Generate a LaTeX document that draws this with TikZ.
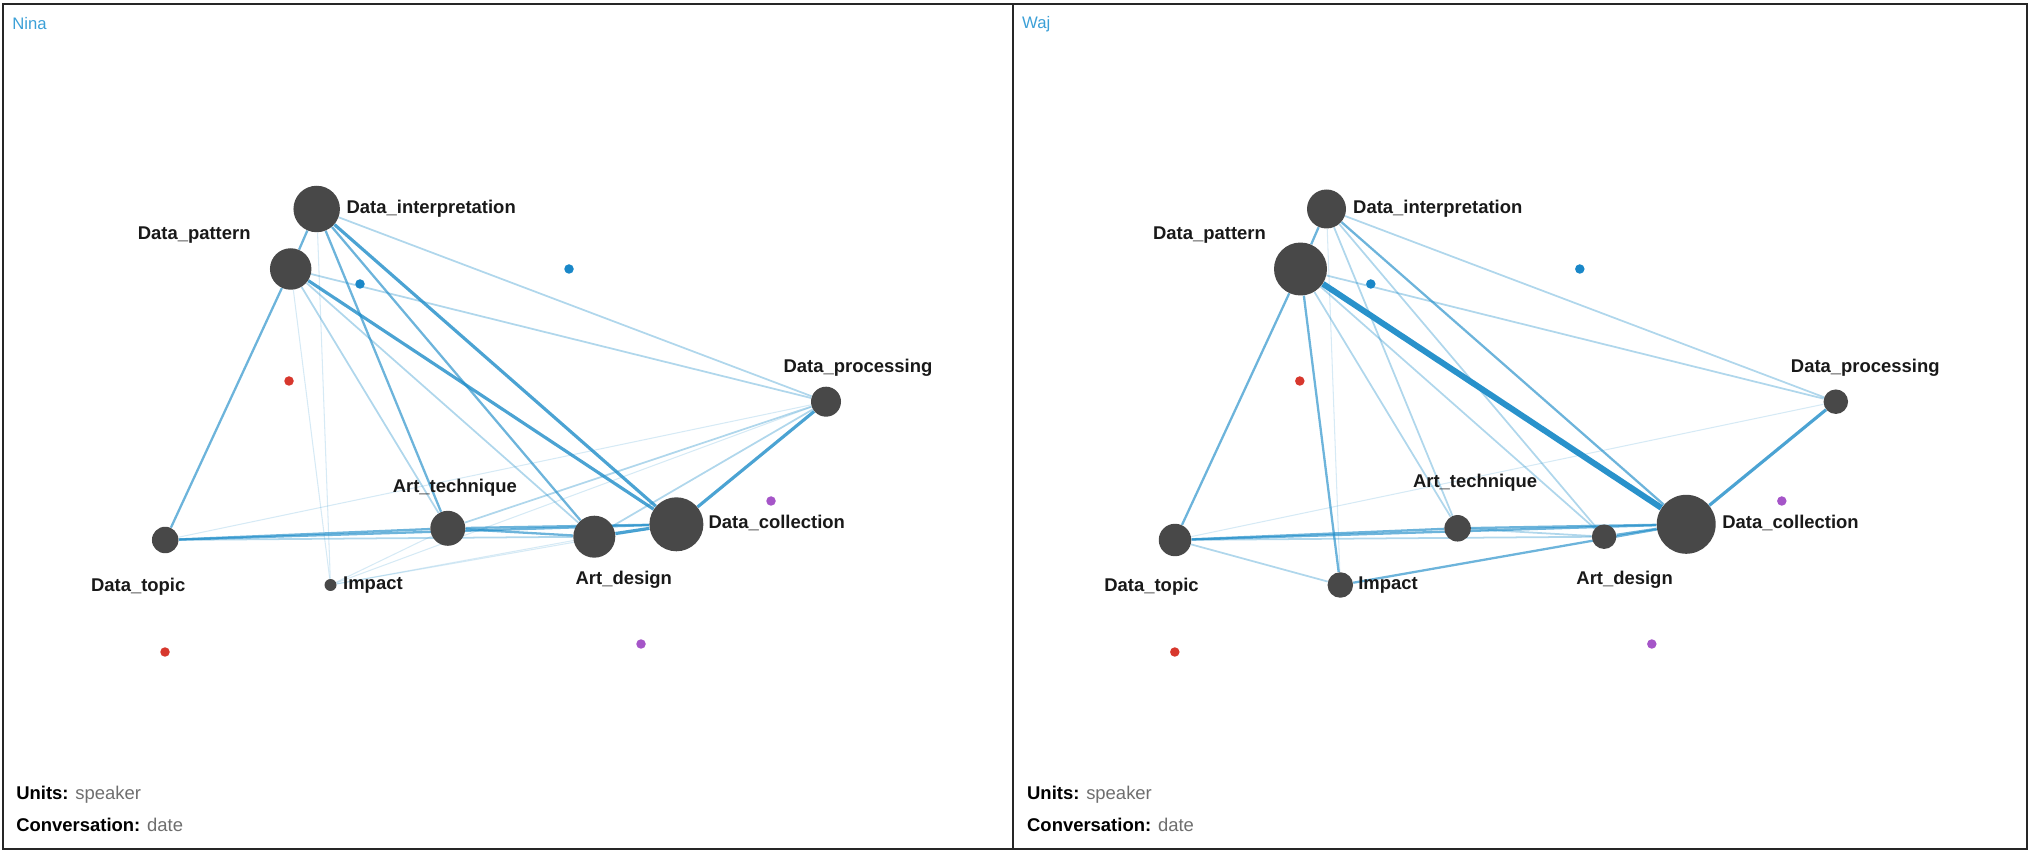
\documentclass[tikz,border=0pt]{standalone}
\usepackage{fontspec}
\setmainfont{Liberation Sans}
\usetikzlibrary{positioning}
\usetikzlibrary{backgrounds}

\definecolor{edgeblue}{RGB}{30,140,200}
\definecolor{nodegray}{RGB}{72,72,72}
\definecolor{dotblue}{RGB}{25,135,200}
\definecolor{dotred}{RGB}{215,55,45}
\definecolor{dotpurple}{RGB}{165,85,200}
\definecolor{namecol}{RGB}{60,160,215}
\definecolor{infogray}{RGB}{110,110,110}

\begin{document}
\begin{tikzpicture}[x=0.02cm, y=-0.02cm,
    code/.style={circle, fill=nodegray, inner sep=0pt},
    lbl/.style={font=\fontsize{10.5}{12}\selectfont\bfseries, text=black!90, inner sep=0pt, text height=0.265cm, text depth=0.078cm},
    unitdot/.style={circle, inner sep=0pt, minimum size=0.19cm},
    faintlink/.style={draw=edgeblue, line width=0.6pt, opacity=0.18},
    lightlink/.style={draw=edgeblue, line width=1pt, opacity=0.35},
    midlink/.style={draw=edgeblue, line width=1.3pt, opacity=0.65},
    boldlink/.style={draw=edgeblue, line width=1.8pt, opacity=0.8},
    heavylink/.style={draw=edgeblue, line width=3.4pt, opacity=0.95},
    frame/.style={draw=black!85, line width=1.6pt},
    info/.style={font=\fontsize{10.5}{12}\selectfont, inner sep=0pt},
    who/.style={font=\fontsize{9.5}{11}\selectfont, text=namecol, inner sep=0pt}]
    \useasboundingbox (0,0) rectangle (2032,854);

    % Nina
    \begin{scope}[name prefix=n-]
        \node[who, anchor=west] (name) at (12,24) {Nina};

        \node[code, minimum size=0.93cm] (DI) at (316.7,209) {};
        \node[code, minimum size=0.83cm] (DP) at (290.7,269) {};
        \node[code, minimum size=0.60cm] (DPr) at (826,401.7) {};
        \node[code, minimum size=1.08cm] (DC) at (676.4,524.3) {};
        \node[code, minimum size=0.84cm] (AD) at (594.3,536.7) {};
        \node[code, minimum size=0.70cm] (AT) at (447.8,528.3) {};
        \node[code, minimum size=0.53cm] (DT) at (165.2,540) {};
        \node[code, minimum size=0.24cm] (Im) at (330.5,585) {};

        \node[lbl, right=0.12cm of DI] (DIl) {Data\_interpretation};
        \node[lbl, above=0.08cm of DP, xshift=-1.93cm] (DPl) {Data\_pattern};
        \node[lbl, above=0.2cm of DPr, xshift=0.64cm] (DPrl) {Data\_processing};
        \node[lbl, right=0.09cm of DC] (DCl) {Data\_collection};
        \node[lbl, below=0.26cm of AD, xshift=0.59cm] (ADl) {Art\_design};
        \node[lbl, above=0.27cm of AT, xshift=0.14cm] (ATl) {Art\_technique};
        \node[lbl, below=0.49cm of DT, xshift=-0.54cm] (DTl) {Data\_topic};
        \node[lbl, right=0.12cm of Im] (Iml) {Impact};

        \node[unitdot, fill=dotblue] (b1) at (360,284) {};
        \node[unitdot, fill=dotblue] (b2) at (569,269) {};
        \node[unitdot, fill=dotred] (r1) at (289,381) {};
        \node[unitdot, fill=dotred] (r2) at (165,652) {};
        \node[unitdot, fill=dotpurple] (p1) at (771,501) {};
        \node[unitdot, fill=dotpurple] (p2) at (641,644) {};

        \node[info, anchor=west] (units) at (16,795) {\textbf{Units:} \textcolor{infogray}{speaker}};
        \node[info, anchor=west] (conv) at ([yshift=-0.6cm]units.west) {\textbf{Conversation:} \textcolor{infogray}{date}};

        \begin{pgfonlayer}{background}
            \draw[midlink] (DI) -- (DP);
            \draw[lightlink] (DI) -- (DPr);
            \draw[midlink] (DI) -- (AT);
            \draw[midlink] (DI) -- (AD);
            \draw[boldlink] (DI) -- (DC);
            \draw[faintlink] (DI) -- (Im);
            \draw[midlink] (DP) -- (DT);
            \draw[lightlink] (DP) -- (DPr);
            \draw[boldlink] (DP) -- (DC);
            \draw[lightlink] (DP) -- (AD);
            \draw[lightlink] (DP) -- (AT);
            \draw[faintlink] (DP) -- (Im);
            \draw[midlink] (DT) -- (AT);
            \draw[lightlink] (DT) -- (AD);
            \draw[midlink] (DT) -- (DC);
            \draw[faintlink] (DT) -- (DPr);
            \draw[midlink] (AT) -- (AD);
            \draw[midlink] (AT) -- (DC);
            \draw[lightlink] (AT) -- (DPr);
            \draw[boldlink] (AD) -- (DC);
            \draw[lightlink] (AD) -- (DPr);
            \draw[boldlink] (DC) -- (DPr);
            \draw[faintlink] (Im) -- (AT);
            \draw[faintlink] (Im) -- (AD);
            \draw[faintlink] (Im) -- (DC);
            \draw[faintlink] (Im) -- (DPr);
        \end{pgfonlayer}
    \end{scope}

    % Waj
    \begin{scope}[xshift=20.2cm, name prefix=w-]
        \node[who, anchor=west] (name) at (12,24) {Waj};

        \node[code, minimum size=0.78cm] (DI) at (316.7,209) {};
        \node[code, minimum size=1.06cm] (DP) at (290.7,269) {};
        \node[code, minimum size=0.49cm] (DPr) at (826,401.7) {};
        \node[code, minimum size=1.18cm] (DC) at (676.4,524.3) {};
        \node[code, minimum size=0.49cm] (AD) at (594.3,536.7) {};
        \node[code, minimum size=0.53cm] (AT) at (447.8,528.3) {};
        \node[code, minimum size=0.65cm] (DT) at (165.2,540) {};
        \node[code, minimum size=0.51cm] (Im) at (330.5,585) {};

        \node[lbl, right=0.13cm of DI] (DIl) {Data\_interpretation};
        \node[lbl, above=-0.04cm of DP, xshift=-1.82cm] (DPl) {Data\_pattern};
        \node[lbl, above=0.25cm of DPr, xshift=0.59cm] (DPrl) {Data\_processing};
        \node[lbl, right=0.12cm of DC] (DCl) {Data\_collection};
        \node[lbl, below=0.43cm of AD, xshift=0.41cm] (ADl) {Art\_design};
        \node[lbl, above=0.46cm of AT, xshift=0.35cm] (ATl) {Art\_technique};
        \node[lbl, below=0.43cm of DT, xshift=-0.47cm] (DTl) {Data\_topic};
        \node[lbl, right=0.09cm of Im] (Iml) {Impact};

        \node[unitdot, fill=dotblue] (b1) at (361,284) {};
        \node[unitdot, fill=dotblue] (b2) at (570,269) {};
        \node[unitdot, fill=dotred] (r1) at (290,381) {};
        \node[unitdot, fill=dotred] (r2) at (165,652) {};
        \node[unitdot, fill=dotpurple] (p1) at (772,501) {};
        \node[unitdot, fill=dotpurple] (p2) at (642,644) {};

        \node[info, anchor=west] (units) at (17,795) {\textbf{Units:} \textcolor{infogray}{speaker}};
        \node[info, anchor=west] (conv) at ([yshift=-0.6cm]units.west) {\textbf{Conversation:} \textcolor{infogray}{date}};

        \begin{pgfonlayer}{background}
            \draw[midlink] (DI) -- (DP);
            \draw[lightlink] (DI) -- (DPr);
            \draw[lightlink] (DI) -- (AT);
            \draw[lightlink] (DI) -- (AD);
            \draw[midlink] (DI) -- (DC);
            \draw[faintlink] (DI) -- (Im);
            \draw[midlink] (DP) -- (DT);
            \draw[lightlink] (DP) -- (DPr);
            \draw[heavylink] (DP) -- (DC);
            \draw[lightlink] (DP) -- (AD);
            \draw[lightlink] (DP) -- (AT);
            \draw[midlink] (DP) -- (Im);
            \draw[midlink] (DT) -- (AT);
            \draw[lightlink] (DT) -- (AD);
            \draw[midlink] (DT) -- (DC);
            \draw[lightlink] (DT) -- (Im);
            \draw[faintlink] (DT) -- (DPr);
            \draw[lightlink] (AT) -- (AD);
            \draw[midlink] (AT) -- (DC);
            \draw[midlink] (AD) -- (DC);
            \draw[midlink] (Im) -- (DC);
            \draw[boldlink] (DC) -- (DPr);
        \end{pgfonlayer}
    \end{scope}

    \draw[frame] (3,4) rectangle (2027,849);
    \draw[frame] (1013,4) -- (1013,849);
\end{tikzpicture}
\end{document}
